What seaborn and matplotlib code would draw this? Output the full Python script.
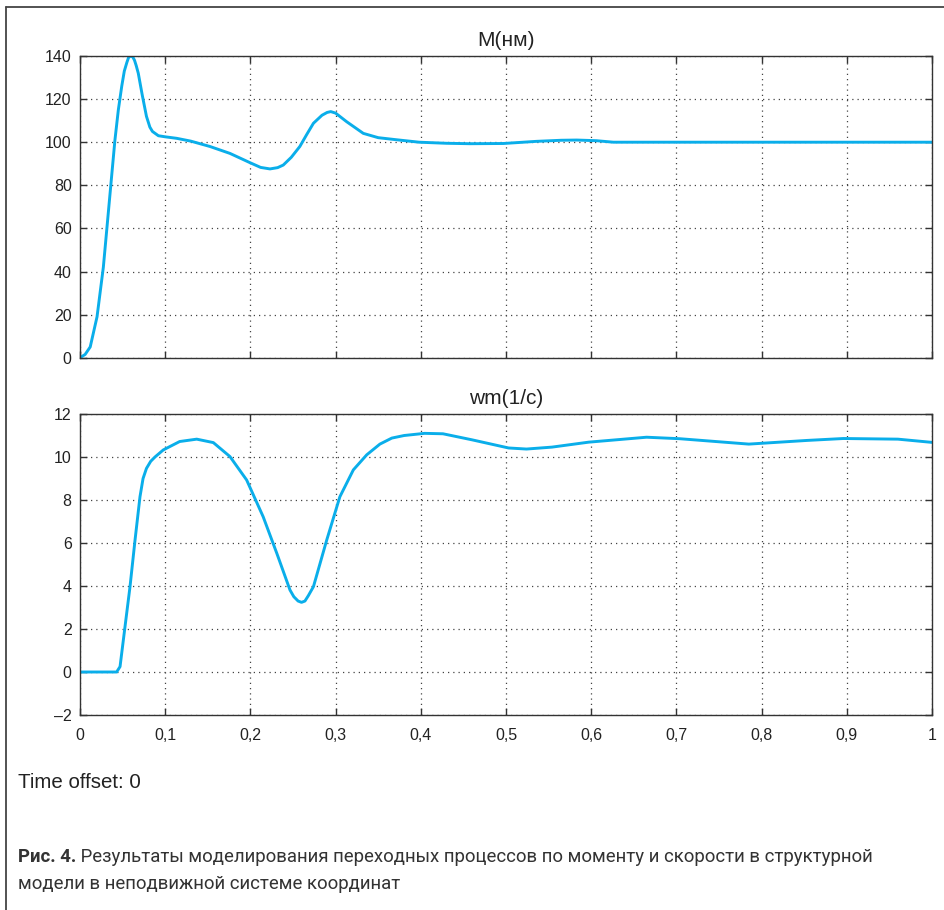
import matplotlib
matplotlib.use("Agg")
import matplotlib.pyplot as plt
from matplotlib.lines import Line2D
import seaborn as sns
import pandas as pd

# ---- data ----
t_m = [0, 0.006, 0.012, 0.020, 0.0274, 0.035, 0.041, 0.045, 0.049, 0.052, 0.055, 0.057,
       0.0595, 0.062, 0.064, 0.066, 0.0684, 0.073, 0.078, 0.082, 0.085, 0.092, 0.100,
       0.1135, 0.130, 0.1526, 0.176, 0.1995, 0.212, 0.223, 0.232, 0.2386, 0.248,
       0.258, 0.266, 0.274, 0.284, 0.290, 0.2943, 0.300, 0.313, 0.3325, 0.350, 0.370,
       0.398, 0.430, 0.4577, 0.497, 0.536, 0.565, 0.583, 0.606, 0.626, 0.700, 0.800,
       0.900, 1.000]
m_vals = [0, 1.5, 5, 19, 42, 75, 101, 115, 126, 133, 137, 139.3,
          140, 139.5, 138, 135.5, 132, 122, 112, 107, 105, 103, 102.5,
          101.8, 100.5, 98, 94.8, 90.5, 88.3, 87.6, 88.2, 89.4, 93,
          98, 103.5, 108.8, 112.5, 113.8, 114.2, 113.5, 109.5, 104.1, 102.1, 101.2,
          100, 99.5, 99.3, 99.4, 100.4, 100.9, 101, 100.7, 100, 100, 100,
          100, 100]

t_w = [0, 0.043, 0.047, 0.0528, 0.0587, 0.0646, 0.0704, 0.074, 0.078, 0.083, 0.088,
       0.0978, 0.117, 0.137, 0.1565, 0.176, 0.1956, 0.215, 0.231, 0.2465, 0.251,
       0.256, 0.260, 0.264, 0.268, 0.274, 0.2896, 0.305, 0.3208, 0.3365, 0.352,
       0.366, 0.3805, 0.4045, 0.426, 0.460, 0.503, 0.524, 0.554, 0.597, 0.665,
       0.704, 0.785, 0.853, 0.896, 0.960, 1.000]
w_vals = [0, 0, 0.25, 2.1, 3.97, 6.14, 8.15, 9.0, 9.47, 9.8, 10.0,
          10.33, 10.72, 10.83, 10.67, 10.02, 8.93, 7.22, 5.52, 3.81, 3.5,
          3.3, 3.24, 3.3, 3.55, 3.97, 6.14, 8.15, 9.4, 10.1, 10.6,
          10.88, 11.0, 11.1, 11.08, 10.8, 10.42, 10.37, 10.46, 10.69, 10.92,
          10.85, 10.6, 10.77, 10.86, 10.83, 10.68]

x_ticks = [0, 0.1, 0.2, 0.3, 0.4, 0.5, 0.6, 0.7, 0.8, 0.9, 1.0]
x_labels = ["0", "0,1", "0,2", "0,3", "0,4", "0,5", "0,6", "0,7", "0,8", "0,9", "1"]
m_ticks = [0, 20, 40, 60, 80, 100, 120, 140]
w_ticks = [-2, 0, 2, 4, 6, 8, 10, 12]
w_labels = ["\u20132", "0", "2", "4", "6", "8", "10", "12"]

title_m = "M(нм)"
title_w = "wm(1/c)"
offset_text = "Time offset: 0"
caption_bold = "Рис. 4."
caption_rest1 = " Результаты моделирования переходных процессов по моменту и скорости в структурной"
caption_line2 = "модели в неподвижной системе координат"

# ---- style ----
sns.set_style("white")
plt.rcParams["font.family"] = ["Liberation Sans", "DejaVu Sans"]

LINE = "#0AAEEA"
SPINE = "#333333"

fig = plt.figure(figsize=(9.44, 9.10), dpi=100)
W, H = 944, 910

def px_axes(l, t, r, b):
    return fig.add_axes([l / W, 1 - b / H, (r - l) / W, (b - t) / H])

ax1 = px_axes(80, 56, 932, 357.7)
ax2 = px_axes(80, 414, 932, 715)

df_m = pd.DataFrame({"t": t_m, "v": m_vals})
df_w = pd.DataFrame({"t": t_w, "v": w_vals})

sns.lineplot(data=df_m, x="t", y="v", ax=ax1, color=LINE, linewidth=2.1)
sns.lineplot(data=df_w, x="t", y="v", ax=ax2, color=LINE, linewidth=2.1)

for ax, yt, yl, ylim, title in [
    (ax1, m_ticks, [str(v) for v in m_ticks], (0, 140), title_m),
    (ax2, w_ticks, w_labels, (-2, 12), title_w),
]:
    ax.set_xlim(0, 1)
    ax.set_ylim(*ylim)
    ax.set_xticks(x_ticks)
    ax.set_yticks(yt)
    ax.set_yticklabels(yl)
    ax.set_xlabel("")
    ax.set_ylabel("")
    ax.grid(True, linestyle=(0, (1, 3.2)), color="#444444", linewidth=0.9)
    ax.tick_params(direction="in", length=5, width=1, color=SPINE,
                   top=True, right=True, bottom=True, left=True,
                   labelsize=11.5, labelcolor="#222222", pad=6)
    for s in ax.spines.values():
        s.set_color(SPINE)
        s.set_linewidth(1.0)
        s.set_visible(True)
    ax.set_title(title, fontsize=15, color="#222222", pad=7)

ax1.set_xticklabels([])
ax2.set_xticklabels(x_labels)
ax2.tick_params(axis="x", pad=9)

# outer frame (top and left edges)
fig.add_artist(Line2D([6 / W, 1], [1 - 7 / H, 1 - 7 / H], color="#444444", linewidth=1.3))
fig.add_artist(Line2D([6 / W, 6 / W], [0, 1 - 7 / H], color="#444444", linewidth=1.3))

fig.text(18 / W, 1 - 783 / H, offset_text, fontsize=14.8, color="#222222", va="center", ha="left")

cap_font = ["Roboto", "DejaVu Sans"]
tb = fig.text(18 / W, 1 - 857 / H, caption_bold, fontsize=13.4, fontweight="bold",
              color="#333333", va="center", ha="left", family=cap_font)
fig.canvas.draw()
bb = tb.get_window_extent(renderer=fig.canvas.get_renderer())
fig.text(bb.x1 / W, 1 - 857 / H, caption_rest1, fontsize=13.4, color="#333333",
         va="center", ha="left", family=cap_font)
fig.text(18 / W, 1 - 884 / H, caption_line2, fontsize=13.4, color="#333333",
         va="center", ha="left", family=cap_font)

fig.savefig("out.png", dpi=100)
